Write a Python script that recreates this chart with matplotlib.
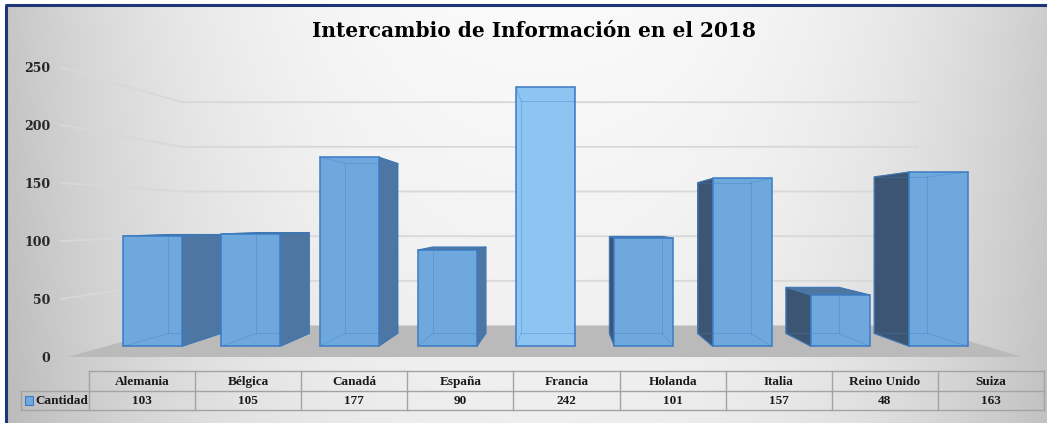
import numpy as np
import matplotlib
matplotlib.use("Agg")
import matplotlib.pyplot as plt
from matplotlib.patches import Polygon, Rectangle

# ---------------- data ----------------
categories = ["Alemania", "Bélgica", "Canadá", "España", "Francia",
              "Holanda", "Italia", "Reino Unido", "Suiza"]
cantidad = [103, 105, 177, 90, 242, 101, 157, 48, 163]
series_name = "Cantidad"
title = "Intercambio de Información en el 2018"
yticks = [0, 50, 100, 150, 200, 250]

# ---------------- figure ----------------
W, H = 1047, 423
fig = plt.figure(figsize=(W / 100, H / 100), dpi=100)
fig.patch.set_facecolor("white")

# background gradient (chart area)
bg = fig.add_axes([0, 0, 1, 1], zorder=-10)
yy, xx = np.mgrid[0:H, 0:W]
d = np.abs(xx - 540) / 530.0
g = 250 - 50 * d ** 2.5 - 12 * (yy / H)
g = np.clip(g, 0, 255) / 255.0
img = np.dstack([g, g, g])
img[:5, :, :] = 1.0
img[:, :5, :] = 1.0
bg.imshow(img, extent=[0, W, H, 0], aspect="auto", interpolation="bilinear")
bg.plot([5, W], [5.5, 5.5], color="#1f3577", lw=2.2, solid_capstyle="butt")
bg.plot([5.5, 5.5], [5, H], color="#1f3577", lw=2.2, solid_capstyle="butt")
bg.set_xlim(0, W)
bg.set_ylim(H, 0)
bg.axis("off")

# ---------------- main (pseudo-3D) axes ----------------
XL, XR = -0.475, 8.485          # world x extent (category units)
PX_L, PX_R = 67, 1022           # pixel extent of front plane
Y0_PX, PX_PER_UNIT = 357, 1.16
YMAX = 265
ax = fig.add_axes([PX_L / W, (H - Y0_PX) / H, (PX_R - PX_L) / W,
                   YMAX * PX_PER_UNIT / H])
ax.set_xlim(XL, XR)
ax.set_ylim(0, YMAX)
ax.patch.set_alpha(0)
for sp in ax.spines.values():
    sp.set_visible(False)
ax.set_xticks([])
ax.set_yticks(yticks)
ax.set_yticklabels([str(t) for t in yticks], fontsize=9, fontweight="bold",
                   family="DejaVu Serif", color="#262626")
ax.tick_params(axis="y", length=0, pad=12)

# perspective: vanishing point (category units, value units)
VX = 4.197
VV = 118.1
S_WALL = 0.77          # depth scale of back wall
S_F, S_B = 0.922, 0.828  # depth scales of bar front / back faces
BW = 0.3               # half bar width


def proj(x, v, s):
    return (VX + s * (x - VX), VV + s * (v - VV))


# floor
floor = [proj(XL, 0, 1), proj(XR, 0, 1), proj(XR, 0, S_WALL), proj(XL, 0, S_WALL)]
ax.add_patch(Polygon(floor, closed=True, facecolor="#bababa", edgecolor="none",
                     zorder=1, clip_on=False))

# gridlines (left wall + back wall)
for t in yticks[1:]:
    p1, p2, p3 = proj(XL - 0.06, t, 1), proj(XL, t, S_WALL), proj(XR, t, S_WALL)
    ax.plot([p1[0], p2[0], p3[0]], [p1[1], p2[1], p3[1]], color="#d8d8d8",
            lw=1.3, zorder=0.5, clip_on=False)

# bars: draw from outside toward the vanishing point
order = sorted(range(len(categories)), key=lambda i: -abs(i - VX))
for i in order:
    v = cantidad[i]
    x0, x1 = i - BW, i + BW
    front = [proj(x0, 0, S_F), proj(x1, 0, S_F), proj(x1, v, S_F), proj(x0, v, S_F)]
    back = [proj(x0, 0, S_B), proj(x1, 0, S_B), proj(x1, v, S_B), proj(x0, v, S_B)]
    z = 2 + (10 - abs(i - VX))
    if x1 < VX:
        side = [front[1], back[1], back[2], front[2]]
        ax.add_patch(Polygon(side, closed=True, facecolor="#4e76a2",
                             edgecolor="#3f74ad", lw=0.8, zorder=z, clip_on=False))
    elif x0 > VX:
        side = [front[0], back[0], back[3], front[3]]
        ax.add_patch(Polygon(side, closed=True, facecolor="#3b5573",
                             edgecolor="#3f74ad", lw=0.8, zorder=z, clip_on=False))
    if v < VV:
        top = [front[3], front[2], back[2], back[3]]
        ax.add_patch(Polygon(top, closed=True, facecolor="#4f76a3",
                             edgecolor="#3f74ad", lw=0.8, zorder=z, clip_on=False))
    fcol = "#8ec4f2" if x0 < VX < x1 else "#6fa8dc"
    ax.add_patch(Polygon(front, closed=True, facecolor=fcol,
                         edgecolor="#3b7cc4", lw=1.1, zorder=z + 0.1, clip_on=False))
    # hidden edges seen through the translucent bar
    edges = [(back[0], back[1]), (back[1], back[2]), (back[2], back[3]),
             (back[3], back[0]), (front[0], back[0]), (front[1], back[1]),
             (front[2], back[2]), (front[3], back[3])]
    for a, b in edges:
        ax.plot([a[0], b[0]], [a[1], b[1]], color="#3f7ec4", lw=0.7, alpha=0.35,
                zorder=z + 0.2, clip_on=False)

# title
fig.text(534 / W, 1 - 31 / H, title, ha="center", va="center", fontsize=14.5,
         fontweight="bold", family="DejaVu Serif", color="black")

# ---------------- data table ----------------
TL, TR, TT, TB = 21, 1044, 371, 410
n = len(categories)
col_w = (TR - 89) / n
lab_w = (89 - TL) / col_w
tax = fig.add_axes([TL / W, (H - TB) / H, (TR - TL) / W, (TB - TT) / H])
tax.set_xlim(-lab_w, n)
tax.set_ylim(2, 0)
tax.axis("off")
tax.patch.set_alpha(0)
lc = "#a3a3a3"
tax.plot([0, n], [0, 0], color=lc, lw=1, clip_on=False)
tax.plot([-lab_w, n], [1, 1], color=lc, lw=1, clip_on=False)
tax.plot([-lab_w, n], [2, 2], color=lc, lw=1, clip_on=False)
for k in range(n + 1):
    tax.plot([k, k], [0, 2], color=lc, lw=1, clip_on=False)
tax.plot([-lab_w, -lab_w], [1, 2], color=lc, lw=1, clip_on=False)
tfont = dict(fontsize=9.5, fontweight="bold", family="Liberation Serif",
             color="#1a1a1a")
for k, (c, val) in enumerate(zip(categories, cantidad)):
    tax.text(k + 0.5, 0.55, c, ha="center", va="center", **tfont)
    tax.text(k + 0.5, 1.55, str(val), ha="center", va="center", **tfont)
# legend key + series name
kx = -lab_w + 4 / col_w
tax.add_patch(Rectangle((kx, 1.3), 8 / col_w, 0.42, facecolor="#6fa8dc",
                        edgecolor="#3b7cc4", lw=0.8, clip_on=False))
tax.text(kx + 10 / col_w, 1.55, series_name, ha="left", va="center", **tfont)

fig.savefig("out.png", dpi=100)
